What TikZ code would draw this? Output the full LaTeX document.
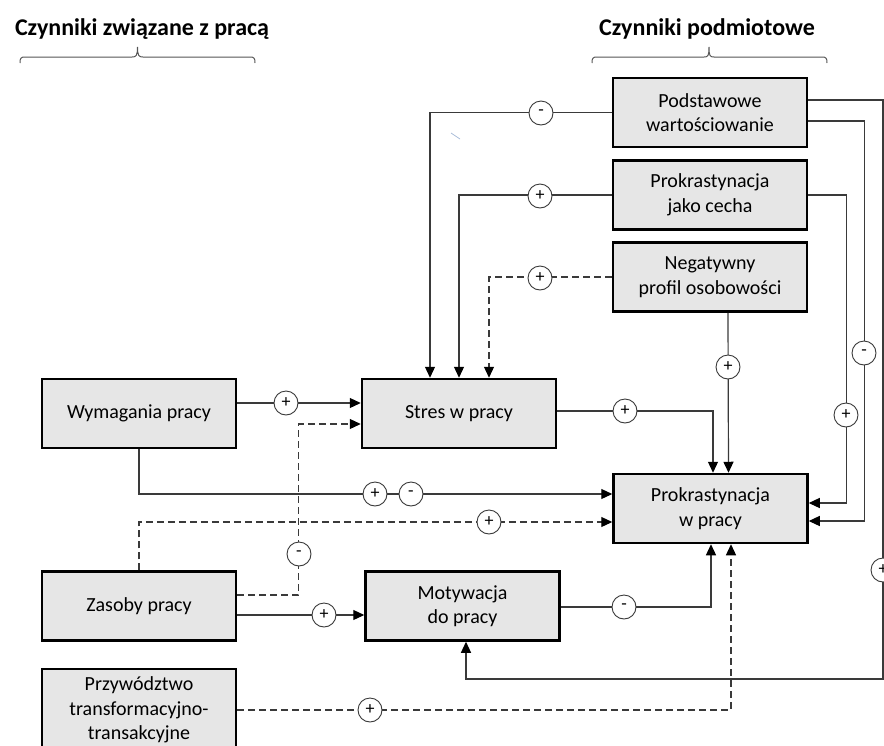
\documentclass[tikz,border=0pt]{standalone}
\usepackage{fontspec}
\setmainfont{Carlito}
\usetikzlibrary{arrows.meta}
\definecolor{boxfill}{HTML}{E6E6E6}
\definecolor{linecol}{HTML}{3A3A3A}
\definecolor{bracecol}{HTML}{555555}
\definecolor{straycol}{HTML}{A8BCD8}
\begin{document}
\begin{tikzpicture}[x=1pt,y=-1pt,
  box/.style={draw=black, line width=2.5pt, fill=boxfill, minimum width=194pt, minimum height=69pt, inner sep=0pt, align=center, font=\fontsize{20}{24.5}\selectfont},
  sign/.style={circle, draw=linecol, line width=0.9pt, fill=white, minimum size=24pt, inner sep=0pt, font=\fontsize{18}{18}\selectfont},
  conn/.style={draw=linecol, line width=1.2pt},
  arr/.style={conn, -{Triangle[length=11pt,width=10pt,color=black]}},
  dsh/.style={dash pattern=on 7pt off 4pt},
  brace/.style={draw=bracecol, line width=1pt},
  head/.style={font=\bfseries\fontsize{24}{24}\selectfont}
]
\path[use as bounding box, clip] (0,0) rectangle (884,745);

% headers
\node[head] (h1) at (142,29) {Czynniki związane z pracą};
\node[head] (h2) at (707,29) {Czynniki podmiotowe};
\draw[brace] (20,63) .. controls (20,58) and (21,57) .. (25,57) -- (132,57) .. controls (136,57) and (137.5,56) .. (137.5,47)
  .. controls (137.5,56) and (139,57) .. (143,57) -- (250,57) .. controls (254,57) and (255,58) .. (255,63);
\draw[brace] (592,63) .. controls (592,58) and (593,57) .. (597,57) -- (704,57) .. controls (708,57) and (709,56) .. (709,47)
  .. controls (709,56) and (710,57) .. (714,57) -- (822,57) .. controls (826,57) and (827,58) .. (827,63);

% boxes
\node[box] (b1) at (710,112.5) {Podstawowe\\wartościowanie};
\node[box] (b2) at (710,195) {Prokrastynacja\\jako cecha};
\node[box] (b3) at (710,277) {Negatywny\\profil osobowości};
\node[box] (wym) at (139,413.5) {Wymagania pracy};
\node[box] (stres) at (459,413.5) {Stres w pracy};
\node[box] (pw) at (710.5,508.5) {Prokrastynacja\\w pracy};
\node[box] (zas) at (139,606) {Zasoby pracy};
\node[box] (mot) at (462.5,606) {Motywacja\\do pracy};
\node[box, minimum height=82pt] (prz) at (139,710) {Przywództwo\\transformacyjno-\\transakcyjne};

\coordinate (fb) at (883,679);

% connectors
\draw[arr] (b1.west) -| ([xshift=-29pt]stres.north);
\draw[arr] (b2.west) -| (stres.north);
\draw[arr,dsh] (b3.west) -| ([xshift=30pt]stres.north);
\draw[arr] ([xshift=18pt]b3.south) -- ([xshift=18pt]pw.north);
\draw[arr] (b2.east) -| ([xshift=38pt,yshift=5.5pt]pw.east) -- ([yshift=5.5pt]pw.east);
\draw[arr] ([yshift=-8.5pt]b1.east) -| ([xshift=56pt,yshift=-12.5pt]pw.east) -- ([yshift=-12.5pt]pw.east);
\draw[arr] ([yshift=12.5pt]b1.east) -| (fb) -| ([xshift=3.5pt]mot.south);
\draw[arr] ([yshift=10.5pt]wym.east) -- ([yshift=10.5pt]stres.west);
\draw[arr] ([yshift=2.5pt]stres.east) -| ([xshift=2.5pt]pw.north);
\draw[arr] (wym.south) |- ([yshift=14.5pt]pw.west);
\draw[arr,dsh] (zas.north) |- ([yshift=-13.5pt]pw.west);
\draw[arr,dsh] ([yshift=11pt]zas.east) -| ([xshift=-62pt,yshift=-10.5pt]stres.west) -- ([yshift=-10.5pt]stres.west);
\draw[arr] ([yshift=-9pt]zas.east) -- ([yshift=-9pt]mot.west);
\draw[arr] ([yshift=-1pt]mot.east) -| ([xshift=0.5pt]pw.south);
\draw[arr,dsh] (prz.east) -| ([xshift=20.5pt]pw.south);

% signs
\node[sign] (s1) at (541,113) {-};
\node[sign] (s2) at (540,196) {+};
\node[sign] (s3) at (540,278) {+};
\node[sign] (s4) at (728,367) {+};
\node[sign] (s5) at (846,415) {+};
\node[sign] (s6) at (864,353) {-};
\node[sign] (s7) at (883,570) {+};
\node[sign] (s8) at (286,403) {+};
\node[sign] (s9) at (625,411) {+};
\node[sign] (s10) at (375,494) {+};
\node[sign] (s11) at (411,494) {-};
\node[sign] (s12) at (489,522) {+};
\node[sign] (s13) at (299,554) {-};
\node[sign] (s14) at (324,615) {+};
\node[sign] (s15) at (624,607) {-};
\node[sign] (s16) at (370,710) {+};

% stray mark
\draw[straycol, line width=0.8pt] (451,133) -- (460,139);
\end{tikzpicture}
\end{document}
